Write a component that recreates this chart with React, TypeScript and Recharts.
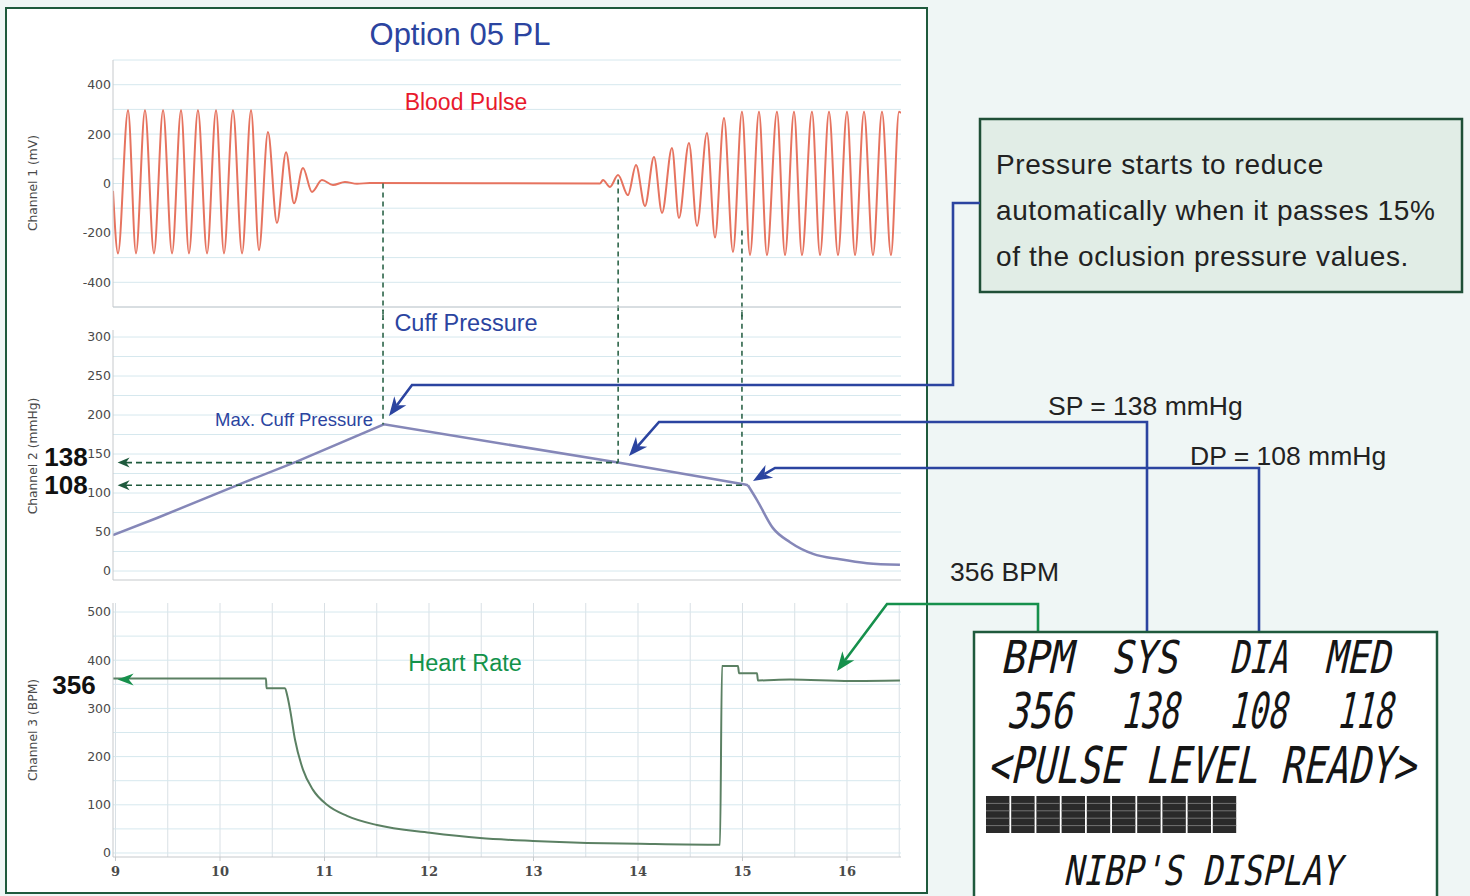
import React from 'react';
import { LineChart, Line, XAxis, YAxis, CartesianGrid, ReferenceLine } from 'recharts';

// ---------- data ----------
const timeTicks = [9, 10, 11, 12, 13, 14, 15, 16];
const timeGrid = [9, 9.5, 10, 10.5, 11, 11.5, 12, 12.5, 13, 13.5, 14, 14.5, 15, 15.5, 16, 16.5];
const X_DOMAIN: [number, number] = [8.976, 16.517];

const pulseTime = [
  8.976, 9.024, 9.12, 9.196, 9.282, 9.368, 9.455, 9.541, 9.627, 9.703, 9.789, 9.876, 9.962, 10.038, 10.124,
  10.211, 10.297, 10.373, 10.459, 10.545, 10.632, 10.708, 10.794, 10.88, 10.976, 11.081, 11.196, 11.311, 11.435,
  13.636, 13.665, 13.732, 13.809, 13.904, 13.981, 14.067, 14.153, 14.23, 14.325, 14.392, 14.488, 14.565, 14.66,
  14.737, 14.823, 14.909, 14.995, 15.072, 15.158, 15.234, 15.33, 15.407, 15.493, 15.569, 15.665, 15.742, 15.828,
  15.914, 16.0, 16.077, 16.163, 16.249, 16.335, 16.421, 16.498, 16.517,
];
const pulseMv = [
  -30, -283, 297, -283, 297, -283, 297, -283, 297, -283, 297, -283, 297, -283, 297,
  -283, 297, -270, 208, -160, 127, -80, 63, -34, 14, -6, 6, -1, 2,
  0, 14, -14, 34, -47, 75, -91, 107, -119, 144, -140, 164, -172, 204,
  -219, 265, -277, 290, -289, 290, -290, 290, -290, 290, -290, 290, -290, 290,
  -290, 290, -290, 290, -290, 290, -290, 290, 285,
];

// cuff pressure: inflation / controlled deflation (straight segments)
const cuffRampTime = [8.976, 9.397, 10.22, 10.727, 11.569, 13.809, 15.024, 15.052];
const cuffRampMmHg = [46, 68, 113, 140, 188, 139, 111, 110];
// cuff pressure: fast exhaust (smooth decay)
const cuffExhaustTime = [15.052, 15.139, 15.292, 15.455, 15.675, 15.933, 16.191, 16.507];
const cuffExhaustMmHg = [110, 91, 55, 37, 22, 15, 10, 8];

const hrTime = [
  8.976, 10.44, 10.445, 10.622, 10.645, 10.67, 10.718, 10.794, 10.89, 11.024, 11.215, 11.502, 12.01, 12.488,
  12.995, 13.512, 14.019, 14.785, 14.804, 14.957, 14.967, 15.139, 15.148, 15.455, 16.029, 16.507,
];
const hrBpm = [
  362, 362, 342, 342, 325, 298, 235, 173, 131, 100, 77, 58, 42, 31,
  25, 21, 19, 17, 388, 388, 373, 373, 358, 360, 357, 358,
];

const pulseTicks = [-400, -200, 0, 200, 400];
const pulseGrid = [-500, -400, -300, -200, -100, 0, 100, 200, 300, 400, 500];
const cuffTicks = [0, 50, 100, 150, 200, 250, 300];
const cuffGrid = [0, 25, 50, 75, 100, 125, 150, 175, 200, 225, 250, 275, 300];
const hrTicks = [0, 100, 200, 300, 400, 500];
const hrGrid = [0, 50, 100, 150, 200, 250, 300, 350, 400, 450, 500];

// events: max cuff pressure, systolic, diastolic
const eventTime = [11.56, 13.81, 14.995];
const eventPulseStart = [0, 16, -190];
const eventCuffValue = [188, 139, 110];
const arrowedEvents = [1, 2]; // SP and DP get horizontal arrows
const bpmLevel = 360;

const lcdHeaders = ['BPM', 'SYS', 'DIA', 'MED'];
const lcdValues = ['356', '138', '108', '118'];

const pulseData = pulseTime.map((x, i) => ({ x, y: pulseMv[i] }));
const cuffRampData = cuffRampTime.map((x, i) => ({ x, y: cuffRampMmHg[i] }));
const cuffExhaustData = cuffExhaustTime.map((x, i) => ({ x, y: cuffExhaustMmHg[i] }));
const hrData = hrTime.map((x, i) => ({ x, y: hrBpm[i] }));

// ---------- styles ----------
const GREEN_DARK = '#1f5a3d';
const BLUE = '#2b44a0';
const SANS = '"Liberation Sans", Arial, sans-serif';
const tickStyleY = { fontSize: 12.5, fill: '#4a4a4a', fontFamily: '"DejaVu Sans", sans-serif' };
const tickStyleX = { fontSize: 13, fill: '#4a4a4a', fontFamily: '"DejaVu Serif", serif', fontWeight: 'bold' as const };
const H_GRID = '#d6e8ee';
const V_GRID = '#d9e0e5';
const AXIS = '#c6c9cc';
const CUFF_COLOR = '#8587b8';

function arrowPts(fx: number, fy: number, tx: number, ty: number, len = 16, w = 6.5) {
  const dx = tx - fx, dy = ty - fy;
  const d = Math.hypot(dx, dy) || 1;
  const ux = dx / d, uy = dy / d;
  const bx = tx - ux * len, by = ty - uy * len;
  const nx = -uy, ny = ux;
  const mx = tx - ux * len * 0.7, my = ty - uy * len * 0.7;
  return {
    poly: `${tx},${ty} ${bx + nx * w},${by + ny * w} ${mx},${my} ${bx - nx * w},${by - ny * w}`,
    nx: mx, ny: my,
  };
}

const dashedArrowLeft = (props: any) => {
  const { x1, y1, x2, y2 } = props;
  const a = arrowPts(x2, y2, x1, y1, 12, 5);
  return (
    <g>
      <line x1={a.nx} y1={y1} x2={x2} y2={y2} stroke={GREEN_DARK} strokeWidth={1.6} strokeDasharray="6 4" />
      <polygon points={a.poly} fill={GREEN_DARK} />
    </g>
  );
};

const solidArrowLeft = (props: any) => {
  const { x1, y1, x2, y2 } = props;
  const a = arrowPts(x2, y2, x1, y1, 16, 6);
  return (
    <g>
      <polygon points={a.poly} fill="#16904c" />
    </g>
  );
};

const vDash = { stroke: GREEN_DARK, strokeWidth: 1.5, strokeDasharray: '5 4' };

function Connector({ pts, color }: { pts: number[][]; color: string }) {
  const n = pts.length;
  const a = arrowPts(pts[n - 2][0], pts[n - 2][1], pts[n - 1][0], pts[n - 1][1], 19, 7.5);
  const linePts = pts.slice(0, n - 1).map((p) => p.join(',')).join(' ') + ` ${a.nx},${a.ny}`;
  return (
    <g>
      <polyline points={linePts} fill="none" stroke={color} strokeWidth={2.6} />
      <polygon points={a.poly} fill={color} />
    </g>
  );
}

// LCD-like text: monospace, sized so its natural width equals w, then stretched vertically and slanted
function LcdText({ x, y, w, cap, text }: { x: number; y: number; w: number; cap: number; text: string }) {
  const fs = w / (text.length * 0.602);
  const sy = cap / (fs * 0.729);
  return (
    <text
      transform={`translate(${x},${y}) skewX(-12) scale(1,${sy.toFixed(3)})`}
      x={0}
      y={0}
      fontFamily='"DejaVu Sans Mono", monospace'
      fontSize={fs}
      fill="#151515"
    >
      {text}
    </text>
  );
}

export default function App() {
  const headerX = [[1000, 72], [1111, 66], [1229, 58], [1324, 66]];
  const valueX = [[1006, 66], [1120, 58], [1228, 58], [1336, 56]];
  const blocks = Array.from({ length: 10 }, (_, i) => i);
  return (
    <div style={{ position: 'absolute', left: 0, top: 0, width: 1470, height: 896, overflow: 'hidden', background: '#eff6f5' }}>
      {/* chart panel */}
      <div style={{ position: 'absolute', left: 5, top: 7, width: 923, height: 887, background: '#fff', border: `2.5px solid ${GREEN_DARK}`, boxSizing: 'border-box' }} />

      {/* Blood pulse */}
      <div style={{ position: 'absolute', left: 0, top: 0 }}>
        <LineChart width={927} height={320} data={pulseData} margin={{ top: 60, right: 26, bottom: 12, left: 0 }}>
          <CartesianGrid horizontal={false} stroke={V_GRID} verticalValues={timeGrid} />
          <CartesianGrid vertical={false} stroke={H_GRID} horizontalValues={pulseGrid} />
          <XAxis type="number" dataKey="x" domain={X_DOMAIN} allowDataOverflow ticks={timeTicks} height={1} tick={false} tickLine={false} axisLine={{ stroke: AXIS }} />
          <YAxis type="number" domain={[-500, 500]} allowDataOverflow ticks={pulseTicks} interval={0} width={113} tickSize={0} tickMargin={2} tick={tickStyleY} axisLine={{ stroke: AXIS }} />
          <Line type="monotone" dataKey="y" stroke="#e6735f" strokeWidth={2} dot={false} isAnimationActive={false} />
          {eventTime.map((t, i) => (
            <ReferenceLine key={i} segment={[{ x: t, y: eventPulseStart[i] }, { x: t, y: -560 }]} ifOverflow="visible" {...vDash} />
          ))}
        </LineChart>
      </div>

      {/* Cuff pressure */}
      <div style={{ position: 'absolute', left: 0, top: 310 }}>
        <LineChart width={927} height={280} margin={{ top: 20, right: 26, bottom: 9, left: 0 }}>
          <CartesianGrid horizontal={false} stroke={V_GRID} verticalValues={timeGrid} />
          <CartesianGrid vertical={false} stroke={H_GRID} horizontalValues={cuffGrid} />
          <XAxis type="number" dataKey="x" domain={X_DOMAIN} allowDataOverflow ticks={timeTicks} height={1} tick={false} tickLine={false} axisLine={{ stroke: AXIS }} />
          <YAxis type="number" domain={[-11.5, 309]} allowDataOverflow ticks={cuffTicks} interval={0} width={113} tickSize={0} tickMargin={2} tick={tickStyleY} axisLine={{ stroke: AXIS }} />
          <Line data={cuffRampData} type="linear" dataKey="y" stroke={CUFF_COLOR} strokeWidth={2.5} dot={false} isAnimationActive={false} />
          <Line data={cuffExhaustData} type="monotone" dataKey="y" stroke={CUFF_COLOR} strokeWidth={2.5} dot={false} isAnimationActive={false} />
          {eventTime.map((t, i) => (
            <ReferenceLine key={'v' + i} segment={[{ x: t, y: 340 }, { x: t, y: eventCuffValue[i] }]} ifOverflow="visible" {...vDash} />
          ))}
          {arrowedEvents.map((i) => (
            <ReferenceLine key={'h' + i} segment={[{ x: 9.02, y: eventCuffValue[i] }, { x: eventTime[i], y: eventCuffValue[i] }]} ifOverflow="visible" shape={dashedArrowLeft} />
          ))}
        </LineChart>
      </div>

      {/* Heart rate */}
      <div style={{ position: 'absolute', left: 0, top: 585 }}>
        <LineChart width={927} height={311} data={hrData} margin={{ top: 18, right: 26, bottom: 9, left: 0 }}>
          <CartesianGrid horizontal={false} stroke={V_GRID} verticalValues={timeGrid} />
          <CartesianGrid vertical={false} stroke={H_GRID} horizontalValues={hrGrid} />
          <XAxis type="number" dataKey="x" domain={X_DOMAIN} allowDataOverflow ticks={timeTicks} interval={0} height={30} tickSize={4} tickMargin={6} tick={tickStyleX} tickLine={{ stroke: AXIS }} axisLine={{ stroke: AXIS }} />
          <YAxis type="number" domain={[-8.3, 518.7]} allowDataOverflow ticks={hrTicks} interval={0} width={113} tickSize={0} tickMargin={2} tick={tickStyleY} axisLine={{ stroke: AXIS }} />
          <Line type="monotone" dataKey="y" stroke="#5b8063" strokeWidth={2} dot={false} isAnimationActive={false} />
          <ReferenceLine segment={[{ x: 9.02, y: bpmLevel }, { x: 9.18, y: bpmLevel }]} ifOverflow="visible" shape={solidArrowLeft} />
        </LineChart>
      </div>

      {/* overlay */}
      <svg width={1470} height={896} style={{ position: 'absolute', left: 0, top: 0, pointerEvents: 'none' }}>
        <text x={460} y={34} textAnchor="middle" dominantBaseline="central" fontFamily={SANS} fontSize={31} fill={BLUE}>Option 05 PL</text>
        <text x={466} y={102} textAnchor="middle" dominantBaseline="central" fontFamily={SANS} fontSize={23} fill="#e8192c">Blood Pulse</text>
        <text x={466} y={323} textAnchor="middle" dominantBaseline="central" fontFamily={SANS} fontSize={23.5} fill={BLUE}>Cuff Pressure</text>
        <text x={465} y={663} textAnchor="middle" dominantBaseline="central" fontFamily={SANS} fontSize={23.5} fill="#12924a">Heart Rate</text>
        <text x={294} y={419} textAnchor="middle" dominantBaseline="central" fontFamily={SANS} fontSize={18.5} fill={BLUE}>Max. Cuff Pressure</text>

        {[['Channel 1 (mV)', 183], ['Channel 2 (mmHg)', 456], ['Channel 3 (BPM)', 730]].map(([t, y]) => (
          <text key={t as string} x={33} y={y as number} transform={`rotate(-90, 33, ${y})`} textAnchor="middle" dominantBaseline="central" fontFamily='"DejaVu Sans", sans-serif' fontSize={12.3} fill="#4a4a4a">{t}</text>
        ))}

        <text x={66} y={457} textAnchor="middle" dominantBaseline="central" fontFamily={SANS} fontWeight="bold" fontSize={26} fill="#111">{lcdValues[1]}</text>
        <text x={66} y={485} textAnchor="middle" dominantBaseline="central" fontFamily={SANS} fontWeight="bold" fontSize={26} fill="#111">{lcdValues[2]}</text>
        <text x={74} y={685} textAnchor="middle" dominantBaseline="central" fontFamily={SANS} fontWeight="bold" fontSize={26} fill="#111">{lcdValues[0]}</text>

        {/* annotation box */}
        <rect x={980} y={119} width={482} height={173} fill="#e1ede6" stroke="#1f4f37" strokeWidth={2.5} />
        {['Pressure starts to reduce', 'automatically when it passes 15%', 'of the oclusion pressure values.'].map((t, i) => (
          <text key={i} x={996} y={174 + i * 46} fontFamily={SANS} fontSize={28} letterSpacing={0.6} fill="#222">{t}</text>
        ))}

        <text x={1048} y={406} dominantBaseline="central" fontFamily={SANS} fontSize={26.5} fill="#222">SP = 138 mmHg</text>
        <text x={1190} y={456} dominantBaseline="central" fontFamily={SANS} fontSize={26.5} fill="#222">DP = 108 mmHg</text>
        <text x={950} y={572} dominantBaseline="central" fontFamily={SANS} fontSize={26.5} fill="#222">356 BPM</text>

        <Connector color={BLUE} pts={[[980, 203], [953, 203], [953, 385], [412, 385], [389, 416]]} />
        <Connector color={BLUE} pts={[[1147, 632], [1147, 422], [659, 422], [629, 456]]} />
        <Connector color={BLUE} pts={[[1259, 632], [1259, 468], [775, 468], [753, 481]]} />
        <Connector color="#16904c" pts={[[1038, 632], [1038, 604], [887, 604], [837, 671]]} />

        {/* NIBP display */}
        <rect x={974} y={632} width={463} height={290} fill="#fff" stroke={GREEN_DARK} strokeWidth={2.5} />
        {lcdHeaders.map((h, i) => (
          <LcdText key={h} x={headerX[i][0]} y={673} w={headerX[i][1]} cap={33} text={h} />
        ))}
        {lcdValues.map((v, i) => (
          <LcdText key={i} x={valueX[i][0]} y={728} w={valueX[i][1]} cap={36} text={v} />
        ))}
        <LcdText x={987} y={783} w={428} cap={37} text="<PULSE LEVEL READY>" />
        {blocks.map((i) => (
          <g key={i}>
            <rect x={986 + i * 25.2} y={796} width={23.4} height={37} fill="#2a2a2a" />
            {[1, 2, 3, 4].map((k) => (
              <line key={k} x1={986 + i * 25.2} x2={986 + i * 25.2 + 23.4} y1={796 + k * 7.4} y2={796 + k * 7.4} stroke="#7a7a7a" strokeWidth={0.9} />
            ))}
          </g>
        ))}
        <LcdText x={1063} y={885} w={278} cap={30} text="NIBP'S DISPLAY" />
      </svg>
    </div>
  );
}
